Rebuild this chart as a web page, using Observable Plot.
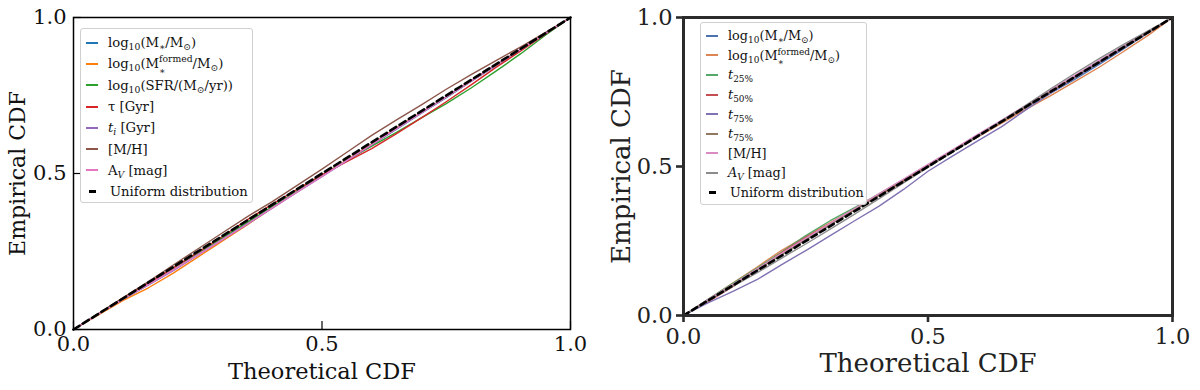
<!DOCTYPE html>
<html>
<head>
<meta charset="utf-8">
<script src="https://cdn.jsdelivr.net/npm/d3@7"></script>
<script src="https://cdn.jsdelivr.net/npm/@observablehq/plot@0.6"></script>
<style>
  html, body { margin: 0; padding: 0; background: #fff; }
  #wrap { position: relative; width: 1200px; height: 390px; display: flex; font-family: "DejaVu Serif", serif; }
  .panel { position: relative; width: 600px; height: 390px; }
  .legend { position: absolute; background: rgba(255,255,255,0.85); border: 1px solid #d0d0d0; border-radius: 3px; box-sizing: border-box; padding: 3px 6px 0 4px; color: #111; }
  .row { display: flex; align-items: center; white-space: nowrap; }
  .hdl { display: inline-block; width: 12px; flex: none; margin: 0 10px 0 1px; }
  .legend sub, .legend sup { font-size: 70%; line-height: 0; }
  .legend sub { vertical-align: -0.35em; }
  .legend sup { vertical-align: 0.6em; }
  .ss { position: relative; display: inline-block; }
  .ss .ab { position: absolute; left: 0; bottom: -0.45em; font-size: 70%; line-height: 1; }
</style>
</head>
<body>
<div id="wrap">
  <div class="panel" id="left"></div>
  <div class="panel" id="right"></div>
</div>
<script>
// ---------- data ----------
const xGrid = [0, .05, .1, .15, .2, .25, .3, .35, .4, .45, .5, .55, .6, .65, .7, .75, .8, .85, .9, .95, 1];
const axisTicks = [0, 0.5, 1];

// Left panel series (empirical CDF values at xGrid)
const leftNames = ["logMstar", "logMformed", "logSFR", "tau", "ti", "MH", "AV"];
const leftColors = ["#1f77b4", "#ff7f0e", "#2ca02c", "#d62728", "#9467bd", "#8c564b", "#e377c2"];
const L_logMstar   = [0, .048, .097, .143, .19, .24, .29, .341, .392, .442, .492, .542, .592, .642, .693, .743, .795, .846, .897, .948, 1];
const L_logMformed = [0, .047, .093, .133, .18, .232, .284, .336, .39, .441, .493, .544, .594, .646, .696, .746, .797, .848, .898, .949, 1];
const L_logSFR     = [0, .05, .101, .149, .196, .245, .294, .344, .394, .444, .494, .542, .588, .632, .678, .724, .774, .828, .884, .944, 1];
const L_tau        = [0, .05, .1, .148, .197, .247, .298, .352, .402, .449, .496, .538, .58, .628, .678, .73, .784, .84, .893, .947, 1];
const L_ti         = [0, .049, .097, .142, .188, .238, .288, .338, .389, .44, .49, .541, .592, .644, .695, .746, .797, .848, .898, .949, 1];
const L_MH         = [0, .051, .102, .153, .206, .258, .31, .362, .41, .462, .514, .568, .622, .672, .72, .77, .817, .862, .906, .952, 1];
const L_AV         = [0, .049, .098, .144, .19, .239, .289, .339, .39, .441, .491, .542, .593, .644, .694, .745, .796, .847, .898, .949, 1];
const leftSeries = [L_logMstar, L_logMformed, L_logSFR, L_tau, L_ti, L_MH, L_AV];

// Right panel series
const rightNames = ["logMstar", "logMformed", "t25", "t50", "t75a", "t75b", "MH", "AV"];
const rightColors = ["#4c72b0", "#dd8452", "#55a868", "#c44e52", "#8172b3", "#937860", "#da8bc3", "#8c8c8c"];
const R_logMstar   = [0, .052, .104, .156, .21, .258, .306, .355, .404, .452, .5, .55, .598, .648, .698, .745, .792, .843, .895, .948, 1];
const R_logMformed = [0, .053, .108, .162, .218, .266, .312, .358, .405, .452, .502, .55, .598, .645, .692, .737, .785, .833, .886, .94, 1];
const R_t25        = [0, .054, .107, .158, .212, .268, .318, .362, .408, .456, .504, .552, .6, .65, .7, .75, .8, .851, .9, .951, 1];
const R_t50        = [0, .046, .096, .152, .21, .262, .308, .356, .404, .452, .501, .551, .6, .65, .7, .75, .799, .849, .899, .95, 1];
const R_t75a       = [0, .042, .08, .12, .17, .218, .268, .318, .367, .423, .484, .535, .584, .633, .69, .745, .797, .848, .898, .95, 1];
const R_t75b       = [0, .051, .102, .153, .204, .254, .305, .355, .405, .455, .505, .554, .603, .652, .702, .752, .802, .852, .902, .951, 1];
const R_MH         = [0, .053, .104, .156, .208, .259, .309, .359, .409, .458, .507, .556, .606, .655, .705, .756, .806, .856, .905, .953, 1];
const R_AV         = [0, .049, .097, .143, .192, .24, .29, .34, .392, .445, .497, .548, .6, .652, .705, .76, .812, .862, .91, .955, 1];
const rightSeries = [R_logMstar, R_logMformed, R_t25, R_t50, R_t75a, R_t75b, R_MH, R_AV];

const uniformX = [0, 1];
const uniformY = [0, 1];

// ---------- helpers ----------
function longTable(names, series) {
  const rows = [];
  names.forEach((n, i) => series[i].forEach((v, j) => rows.push({series: n, x: xGrid[j], y: v})));
  return rows;
}
const uniform = uniformX.map((x, i) => ({x, y: uniformY[i]}));
const fmt = d3.format(".1f");
const FONT = "DejaVu Serif";

// ---------- left panel ----------
{
  const W = 600, H = 390, mL = 73, mR = 30, mT = 17, mB = 61;
  const ph = H - mT - mB, pw = W - mL - mR;
  const chart = Plot.plot({
    width: W, height: H,
    marginLeft: mL, marginRight: mR, marginTop: mT, marginBottom: mB,
    style: {fontFamily: FONT, background: "white", overflow: "visible"},
    x: {domain: [0, 1]},
    y: {domain: [0, 1]},
    color: {domain: leftNames, range: leftColors},
    marks: [
      Plot.line(longTable(leftNames, leftSeries), {x: "x", y: "y", z: "series", stroke: "series", strokeWidth: 1.4}),
      Plot.line(uniform, {x: "x", y: "y", stroke: "black", strokeWidth: 2.6, strokeDasharray: "7,4"}),
      Plot.frame({stroke: "black", strokeWidth: 1.5}),
      Plot.ruleX(axisTicks, {insetTop: ph - 8, stroke: "black", strokeWidth: 1.2}),
      Plot.ruleY(axisTicks, {insetRight: pw - 8, stroke: "black", strokeWidth: 1.2}),
      Plot.axisX(axisTicks, {tickSize: 0, tickPadding: 7, tickFormat: fmt, fontSize: 21, label: null, fill: "#111"}),
      Plot.axisY(axisTicks, {tickSize: 0, tickPadding: 7, tickFormat: fmt, fontSize: 21, label: null, fill: "#111"}),
      Plot.text(["Theoretical CDF"], {frameAnchor: "bottom", lineAnchor: "middle", dy: 42, fontSize: 22.5, fill: "#111"}),
      Plot.text(["Empirical CDF"], {frameAnchor: "left", textAnchor: "middle", rotate: -90, dx: -56, fontSize: 22, fill: "#111"})
    ]
  });
  document.getElementById("left").appendChild(chart);
}

// ---------- right panel ----------
{
  const W = 600, H = 390, mL = 83, mR = 28, mT = 17, mB = 75;
  const chart = Plot.plot({
    width: W, height: H,
    marginLeft: mL, marginRight: mR, marginTop: mT, marginBottom: mB,
    style: {fontFamily: FONT, background: "white", overflow: "visible"},
    x: {domain: [0, 1]},
    y: {domain: [0, 1]},
    color: {domain: rightNames, range: rightColors},
    marks: [
      Plot.line(longTable(rightNames, rightSeries), {x: "x", y: "y", z: "series", stroke: "series", strokeWidth: 1.4}),
      Plot.line(uniform, {x: "x", y: "y", stroke: "black", strokeWidth: 2.6, strokeDasharray: "6,4"}),
      Plot.frame({stroke: "#2b2b2b", strokeWidth: 3}),
      Plot.axisX(axisTicks, {tickSize: 7, strokeWidth: 2.6, stroke: "#2b2b2b", tickPadding: 6, tickFormat: fmt, fontSize: 22.5, label: null, fill: "#222"}),
      Plot.axisY(axisTicks, {tickSize: 7, strokeWidth: 2.6, stroke: "#2b2b2b", tickPadding: 4, tickFormat: fmt, fontSize: 22.5, label: null, fill: "#222"}),
      Plot.text(["Theoretical CDF"], {frameAnchor: "bottom", lineAnchor: "middle", dy: 48, fontSize: 26, fill: "#222"}),
      Plot.text(["Empirical CDF"], {frameAnchor: "left", textAnchor: "middle", rotate: -90, dx: -62, fontSize: 26, fill: "#222"})
    ]
  });
  document.getElementById("right").appendChild(chart);
}

// ---------- legends ----------
const FORMED = "M<span class='ss'><sup>formed</sup><span class='ab'>∗</span></span>";
const leftLabels = [
  "log<sub>10</sub>(M<sub>∗</sub>/M<sub>⊙</sub>)",
  "log<sub>10</sub>(" + FORMED + "/M<sub>⊙</sub>)",
  "log<sub>10</sub>(SFR/(M<sub>⊙</sub>/yr))",
  "τ [Gyr]",
  "<i>t<sub>i</sub></i> [Gyr]",
  "[M/H]",
  "A<sub><i>V</i></sub> [mag]",
  "Uniform distribution"
];
const rightLabels = [
  "log<sub>10</sub>(M<sub>∗</sub>/M<sub>⊙</sub>)",
  "log<sub>10</sub>(" + FORMED + "/M<sub>⊙</sub>)",
  "<i>t</i><sub>25%</sub>",
  "<i>t</i><sub>50%</sub>",
  "<i>t</i><sub>75%</sub>",
  "<i>t</i><sub>75%</sub>",
  "[M/H]",
  "<i>A<sub>V</sub></i> [mag]",
  "Uniform distribution"
];
function makeLegend(parent, labels, colors, box, rowH, fontSize) {
  const lg = document.createElement("div");
  lg.className = "legend";
  Object.assign(lg.style, {left: box.left + "px", top: box.top + "px", width: box.width + "px", height: box.height + "px", fontSize: fontSize + "px"});
  labels.forEach((lab, i) => {
    const row = document.createElement("div");
    row.className = "row";
    row.style.height = rowH + "px";
    const h = document.createElement("span");
    h.className = "hdl";
    const isUni = i === labels.length - 1;
    if (isUni) {
      Object.assign(h.style, {height: "3px", background: "#000", width: "7px", margin: "0 14px 0 4px"});
    } else {
      Object.assign(h.style, {height: "2px", background: colors[i]});
    }
    const t = document.createElement("span");
    t.innerHTML = lab;
    row.appendChild(h); row.appendChild(t);
    lg.appendChild(row);
  });
  parent.appendChild(lg);
}
makeLegend(document.getElementById("left"), leftLabels, leftColors, {left: 80, top: 28, width: 173, height: 175}, 21.3, 13.2);
makeLegend(document.getElementById("right"), rightLabels, rightColors, {left: 100, top: 22, width: 167, height: 183}, 19.6, 12.8);
</script>
</body>
</html>
